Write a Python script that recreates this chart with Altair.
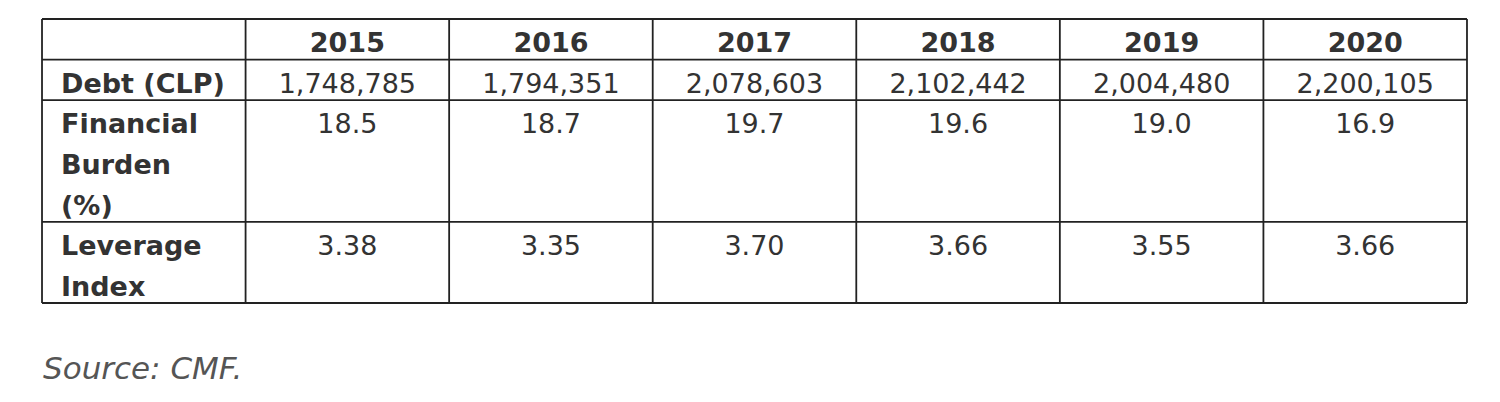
import altair as alt
import pandas as pd

# ---- data ----
years = ["2015", "2016", "2017", "2018", "2019", "2020"]
row_labels = [["Debt (CLP)"], ["Financial", "Burden", "(%)"], ["Leverage", "Index"]]
debt = ["1,748,785", "1,794,351", "2,078,603", "2,102,442", "2,004,480", "2,200,105"]
burden = ["18.5", "18.7", "19.7", "19.6", "19.0", "16.9"]
leverage = ["3.38", "3.35", "3.70", "3.66", "3.55", "3.66"]
source = "Source: CMF."

value_rows = [debt, burden, leverage]

# ---- layout ----
LINE = 40.57          # px per text line
NCOL = len(years) + 1
TOTAL_LINES = 9
FONT = "DejaVu Sans"
TXT = "#333333"
GRID = "#222222"

row_lines = [1] + [len(l) for l in row_labels]
row_start = [sum(row_lines[:i]) for i in range(len(row_lines))]
bounds = row_start + [sum(row_lines)]

labels, values, headers = [], [], []
for j, y in enumerate(years):
    headers.append({"col": j + 1.5, "line": 0.5, "text": y})
for r, lines in enumerate(row_labels):
    s = row_start[r + 1]
    for k, t in enumerate(lines):
        labels.append({"col": 0, "line": s + k + 0.5, "text": t})
    for j, v in enumerate(value_rows[r]):
        values.append({"col": j + 1.5, "line": s + 0.5, "text": v})

hrules = pd.DataFrame({"y": bounds, "x": [0] * len(bounds), "x2": [NCOL] * len(bounds)})
vrules = pd.DataFrame({"x": list(range(NCOL + 1)), "y": [0] * (NCOL + 1), "y2": [bounds[-1]] * (NCOL + 1)})

xs = alt.Scale(domain=[0, NCOL])
ys = alt.Scale(domain=[0, TOTAL_LINES], reverse=True)

def X(f="col"):
    return alt.X(f"{f}:Q", scale=xs, axis=None)

def Y(f="line"):
    return alt.Y(f"{f}:Q", scale=ys, axis=None)

h = alt.Chart(hrules).mark_rule(color=GRID, strokeWidth=1.8).encode(
    x=X("x"), x2="x2:Q", y=Y("y"))
v = alt.Chart(vrules).mark_rule(color=GRID, strokeWidth=1.8).encode(
    x=X("x"), y=Y("y"), y2="y2:Q")

head = alt.Chart(pd.DataFrame(headers)).mark_text(
    font=FONT, fontSize=27, fontWeight="bold", color=TXT, baseline="middle", align="center", dy=5
).encode(x=X(), y=Y(), text="text:N")

lab = alt.Chart(pd.DataFrame(labels)).mark_text(
    font=FONT, fontSize=27, fontWeight="bold", color=TXT, baseline="middle", align="left", dx=19, dy=5
).encode(x=X(), y=Y(), text="text:N")

val = alt.Chart(pd.DataFrame(values)).mark_text(
    font=FONT, fontSize=27, fontWeight="normal", color=TXT, baseline="middle", align="center", dy=5
).encode(x=X(), y=Y(), text="text:N")

src = alt.Chart(pd.DataFrame([{"col": 0, "line": 8.58, "text": source}])).mark_text(
    font=FONT, fontSize=31, fontStyle="italic", color="#555555", baseline="middle", align="left", dx=1, dy=3
).encode(x=X(), y=Y(), text="text:N")

chart = alt.layer(h, v, head, lab, val, src).properties(
    width=1425, height=TOTAL_LINES * LINE,
    background="white",
    autosize=alt.AutoSizeParams(type="none"),
    padding={"left": 34, "top": 11, "right": 10, "bottom": 10},
).configure_view(strokeWidth=0)

chart.save("out.html", embed_options={"renderer": "svg", "actions": False})
